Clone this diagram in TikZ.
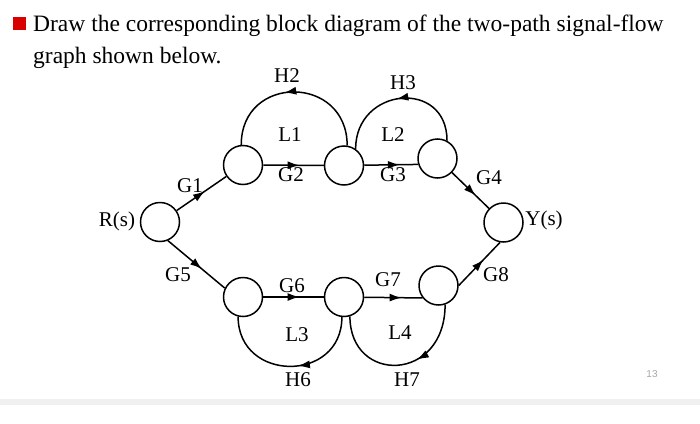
\documentclass[tikz,border=0pt]{standalone}
\usepackage{fontspec}
\setmainfont{Liberation Serif}
\newfontfamily\pgnumfont{Liberation Sans}
\usetikzlibrary{arrows.meta,decorations.markings}
\begin{document}
\begin{tikzpicture}[x=1pt,y=-1pt,
  state/.style={circle,draw,line width=1.5pt,minimum size=39pt,inner sep=0pt},
  lbl/.style={font=\fontsize{21}{21}\selectfont,inner sep=0pt},
  ttl/.style={anchor=base west,inner sep=0pt,font=\fontsize{23.5}{23.5}\selectfont},
  wire/.style={line width=1.5pt},
  midarrow/.style={postaction={decorate},decoration={markings,mark=at position #1 with {\arrow{Latex[length=12pt,width=8pt]}}}},
  midarrow/.default=0.6]
\useasboundingbox (0,0) rectangle (700,423);
% page decoration
\fill[gray!12] (0,399) rectangle (700,405);
\fill[red!85!black] (13,17) rectangle (26,29.5);
\node[ttl] (title1) at (33,31.5) {Draw the corresponding block diagram of the two-path signal-flow};
\node[ttl] (title2) at (33,63.5) {graph shown below.};
\node[font=\pgnumfont\fontsize{10}{10}\selectfont,text=gray!70,inner sep=0pt] (pg) at (652,374) {13};
% states
\node[state] (R)  at (160,222) {};
\node[state] (a1) at (243,165) {};
\node[state] (a2) at (344,165.5) {};
\node[state] (a3) at (437.5,158.5) {};
\node[state] (b1) at (243,297) {};
\node[state] (b2) at (344,297) {};
\node[state] (b3) at (438.5,285.5) {};
\node[state] (Y)  at (503.5,222.5) {};
% forward branches
\draw[wire,midarrow=0.57] (R) -- (a1);
\draw[wire,midarrow=0.6] (a1) -- (a2);
\draw[wire,midarrow=0.66] (a2) -- (a3.197);
\draw[wire,midarrow=0.64] (a3) -- (Y);
\draw[wire,midarrow=0.6] (R.293) -- (b1.154);
\draw[wire,midarrow=0.6] (b1) -- (b2);
\draw[wire,midarrow=0.64] (b2) -- (b3.218);
\draw[wire,midarrow=0.6] (b3.east) -- (Y.260);
% feedback loops
\draw[wire,midarrow=0.56] (a2.81) .. controls +(0,-71) and +(0,-71) .. (a1.95);
\draw[wire,midarrow=0.52] (a3.62) .. controls +(0,-62) and +(0,-62) .. (a2.55);
\draw[wire,midarrow=0.45] (b2.264) .. controls +(0,66) and +(0,66) .. (b1.256);
\draw[wire,midarrow=0.40] (b3.289) .. controls +(0,78) and +(0,68) .. (b2.287);
% labels
\node[lbl] (lR)  at (117,221) {R(s)};
\node[lbl] (lY)  at (544,220) {Y(s)};
\node[lbl] (lG1) at (190,186) {G1};
\node[lbl] (lG2) at (291,175) {G2};
\node[lbl] (lG3) at (393,175) {G3};
\node[lbl] (lG4) at (489,178) {G4};
\node[lbl] (lG5) at (178,275) {G5};
\node[lbl] (lG6) at (292,286) {G6};
\node[lbl] (lG7) at (388,280) {G7};
\node[lbl] (lG8) at (496,275) {G8};
\node[lbl] (lH2) at (287,76) {H2};
\node[lbl] (lH3) at (403,83) {H3};
\node[lbl] (lL1) at (290,135) {L1};
\node[lbl] (lL2) at (393,135) {L2};
\node[lbl] (lL3) at (297,335) {L3};
\node[lbl] (lL4) at (400,333) {L4};
\node[lbl] (lH6) at (298,380) {H6};
\node[lbl] (lH7) at (407,380) {H7};
\end{tikzpicture}
\end{document}
